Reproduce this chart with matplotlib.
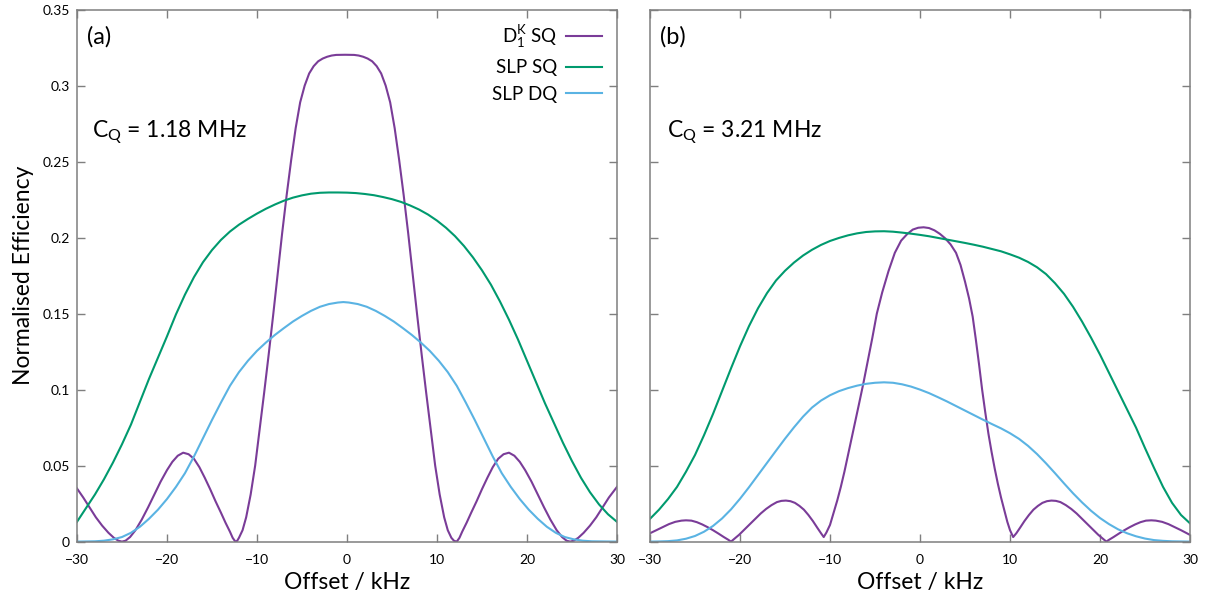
import matplotlib
matplotlib.use("Agg")
import matplotlib.pyplot as plt
from matplotlib.ticker import FuncFormatter

plt.rcParams['font.family'] = ['Lato', 'DejaVu Sans']
plt.rcParams['mathtext.fontset'] = 'custom'
plt.rcParams['mathtext.rm'] = 'Lato'
plt.rcParams['mathtext.it'] = 'Lato:italic'

# ---- panel (a), CQ = 1.18 MHz ----
a_dk_x = [-30, -29.3, -28.6, -27.9, -27.2, -26.5, -25.9, -25.4, -25, -24.6, -24.1, -23.5, -22.8,
          -22.1, -21.4, -20.7, -20, -19.4, -18.8, -18.2, -17.6, -17.0, -16.4, -15.8, -15.2,
          -14.6, -14.0, -13.5, -13.0, -12.7, -12.4, -12.2, -12.0, -11.6, -11.2, -10.7, -10.2,
          -9.7, -9.2, -8.7, -8.2, -7.7, -7.2, -6.7, -6.2, -5.7, -5.2, -4.7, -4.2, -3.7, -3.2,
          -2.7, -2.2, -1.7, -1.2, -0.2, 0.8, 1.3, 1.8, 2.3, 2.8, 3.3, 3.8, 4.3, 4.8, 5.3, 5.8,
          6.3, 6.8, 7.3, 7.8, 8.3, 8.8, 9.3, 9.8, 10.3, 10.8, 11.2, 11.6, 11.9, 12.2, 12.5,
          12.8, 13.3, 13.8, 14.4, 15.0, 15.6, 16.2, 16.8, 17.4, 18.0, 18.6, 19.2, 19.8, 20.5,
          21.2, 21.9, 22.6, 23.3, 23.9, 24.4, 24.8, 25.2, 25.7, 26.3, 27.0, 27.7, 28.4, 29.1,
          30]
a_dk_y = [0.035, 0.029, 0.0225, 0.016, 0.0105, 0.0058, 0.0025, 0.0006, 0.0, 0.0006, 0.003,
          0.0075, 0.0145, 0.0225, 0.031, 0.0395, 0.047, 0.0525, 0.0565, 0.0585, 0.0575, 0.0545,
          0.049, 0.042, 0.0345, 0.0265, 0.019, 0.0125, 0.0065, 0.0025, 0.0, 0.0005, 0.0025,
          0.0075, 0.016, 0.031, 0.050, 0.074, 0.098, 0.123, 0.149, 0.176, 0.203, 0.228, 0.251,
          0.272, 0.289, 0.300, 0.308, 0.3128, 0.316, 0.3178, 0.319, 0.3198, 0.3202, 0.3203,
          0.3202, 0.3198, 0.319, 0.3178, 0.316, 0.3128, 0.308, 0.300, 0.289, 0.272, 0.251,
          0.228, 0.203, 0.176, 0.149, 0.123, 0.098, 0.074, 0.050, 0.031, 0.016, 0.0075, 0.0025,
          0.0005, 0.0, 0.0025, 0.0065, 0.0125, 0.019, 0.0265, 0.0345, 0.042, 0.049, 0.0545,
          0.0575, 0.0585, 0.0565, 0.0525, 0.047, 0.0395, 0.031, 0.0225, 0.0145, 0.0075, 0.003,
          0.0006, 0.0, 0.0006, 0.0025, 0.0058, 0.0105, 0.016, 0.0225, 0.029, 0.036]

a_slp_sq_x = [-30, -29, -28, -27, -26, -25, -24, -23, -22, -21, -20, -19, -18, -17, -16, -15,
              -14, -13, -12, -11, -10, -9, -8, -7, -6, -5, -4, -3, -2, -1, 0, 1, 2, 3, 4, 5, 6,
              7, 8, 9, 10, 11, 12, 13, 14, 15, 16, 17, 18, 19, 20, 21, 22, 23, 24, 25, 26, 27,
              28, 29, 30]
a_slp_sq_y = [0.013, 0.022, 0.031, 0.041, 0.052, 0.064, 0.077, 0.092, 0.107, 0.121, 0.135,
              0.1495, 0.1625, 0.174, 0.1838, 0.1918, 0.1985, 0.204, 0.2085, 0.2123, 0.2158,
              0.219, 0.2218, 0.2243, 0.2263, 0.2278, 0.2289, 0.2295, 0.2297, 0.2297, 0.2296,
              0.2293, 0.2287, 0.2279, 0.2267, 0.2253, 0.2235, 0.2212, 0.2185, 0.2152, 0.2112,
              0.2065, 0.201, 0.1945, 0.187, 0.1785, 0.169, 0.158, 0.146, 0.133, 0.119, 0.105,
              0.091, 0.078, 0.065, 0.053, 0.042, 0.0325, 0.0245, 0.018, 0.013]

a_slp_dq_x = [-30, -28, -27, -26, -25, -24, -23, -22, -21, -20, -19, -18, -17, -16, -15, -14,
              -13, -12, -11, -10, -9, -8, -7, -6, -5, -4, -3, -2, -1, -0.4, 0.2, 1.2, 2.2, 3.2,
              4.2, 5.2, 6.2, 7.2, 8.2, 9.2, 10.2, 11.2, 12.2, 13.2, 14.2, 15.2, 16.2, 17.2,
              18.2, 19.2, 20.2, 21.2, 22.2, 23.2, 24.2, 25.2, 26.2, 27.2, 30]
a_slp_dq_y = [0.0, 0.0002, 0.0006, 0.0015, 0.003, 0.0058, 0.0098, 0.015, 0.021, 0.028, 0.036,
              0.045, 0.056, 0.068, 0.080, 0.0915, 0.1025, 0.1115, 0.119, 0.1255, 0.131, 0.136,
              0.1405, 0.1448, 0.1485, 0.1518, 0.1545, 0.1563, 0.1573, 0.1576, 0.1573, 0.1563,
              0.1545, 0.1518, 0.1485, 0.1448, 0.1405, 0.136, 0.131, 0.1255, 0.119, 0.1115,
              0.1025, 0.0915, 0.080, 0.068, 0.056, 0.045, 0.036, 0.028, 0.021, 0.015, 0.0098,
              0.0058, 0.003, 0.0015, 0.0006, 0.0002, 0.0]

# ---- panel (b), CQ = 3.21 MHz ----
b_dk_x = [-30, -29.3, -28.6, -27.9, -27.2, -26.5, -26, -25.4, -24.8, -24.2, -23.6, -23.0, -22.4,
          -21.8, -21.3, -21, -20.6, -20.1, -19.5, -18.9, -18.3, -17.7, -17.1, -16.5, -15.9,
          -15.4, -14.9, -14.4, -13.9, -13.4, -12.9, -12.4, -11.9, -11.4, -11.0, -10.7, -10.4,
          -10.0, -9.6, -9.2, -8.8, -8.4, -8.0, -7.6, -7.2, -6.8, -6.3, -5.8, -5.3, -4.8, -4.2,
          -3.5, -2.8, -2.1, -1.4, -0.8, -0.2, 0.4, 1.0, 1.6, 2.2, 2.8, 3.4, 4.0, 4.5, 5.0,
          5.45, 5.85, 6.2, 6.55, 6.9, 7.25, 7.6, 7.95, 8.3, 8.65, 9.0, 9.35, 9.7, 10.0, 10.35,
          10.7, 11.1, 11.6, 12.1, 12.6, 13.1, 13.6, 14.1, 14.6, 15.1, 15.6, 16.2, 16.8, 17.4,
          18.0, 18.6, 19.2, 19.8, 20.3, 20.7, 21.0, 21.5, 22.1, 22.7, 23.3, 23.9, 24.5, 25.1,
          25.7, 26.2, 26.9, 27.6, 28.3, 29.0, 30]
b_dk_y = [0.0055, 0.0075, 0.0095, 0.0115, 0.013, 0.0138, 0.014, 0.0138, 0.0128, 0.0113, 0.0095,
          0.0075, 0.0053, 0.003, 0.0012, 0.0, 0.002, 0.0045, 0.008, 0.0115, 0.015, 0.0185,
          0.0215, 0.024, 0.026, 0.0268, 0.027, 0.0266, 0.0255, 0.0235, 0.021, 0.0175, 0.0135,
          0.009, 0.0055, 0.003, 0.006, 0.011, 0.019, 0.027, 0.036, 0.046, 0.057, 0.068, 0.079,
          0.090, 0.104, 0.119, 0.134, 0.150, 0.164, 0.178, 0.190, 0.198, 0.2025, 0.2053,
          0.2065, 0.2068, 0.2063, 0.2048, 0.2025, 0.1995, 0.1955, 0.190, 0.182, 0.171, 0.160,
          0.148, 0.133, 0.117, 0.100, 0.085, 0.071, 0.059, 0.048, 0.038, 0.029, 0.021, 0.013,
          0.0075, 0.003, 0.0055, 0.009, 0.0135, 0.0175, 0.021, 0.0235, 0.0255, 0.0266, 0.027,
          0.0268, 0.026, 0.024, 0.0215, 0.0185, 0.015, 0.0115, 0.008, 0.0045, 0.002, 0.0,
          0.0012, 0.003, 0.0053, 0.0075, 0.0095, 0.0113, 0.0128, 0.0138, 0.014, 0.0138, 0.013,
          0.0115, 0.0095, 0.0075, 0.0044]

b_slp_sq_x = [-30, -29, -28, -27, -26, -25, -24, -23, -22, -21, -20, -19, -18, -17, -16, -15,
              -14, -13, -12, -11, -10, -9, -8, -7, -6, -5, -4, -3, -2, -1, 0, 1, 2, 3, 4, 5, 6,
              7, 8, 9, 10, 11, 12, 13, 14, 15, 16, 17, 18, 19, 20, 21, 22, 23, 24, 25, 26, 27,
              28, 29, 30]
b_slp_sq_y = [0.015, 0.021, 0.028, 0.036, 0.046, 0.057, 0.070, 0.084, 0.099, 0.114, 0.1285,
              0.1418, 0.1535, 0.1635, 0.1718, 0.1782, 0.1836, 0.1882, 0.192, 0.1952, 0.1978,
              0.1998, 0.2015, 0.2028, 0.2037, 0.2041, 0.2042, 0.2039, 0.2033, 0.2026, 0.2018,
              0.2009, 0.1998, 0.1987, 0.1976, 0.1965, 0.1953, 0.194, 0.1925, 0.191, 0.189,
              0.1868, 0.184, 0.1805, 0.176, 0.170, 0.163, 0.1545, 0.1448, 0.1342, 0.123, 0.111,
              0.099, 0.087, 0.075, 0.0615, 0.0485, 0.036, 0.0255, 0.0175, 0.012]

b_slp_dq_x = [-30, -29, -28, -27, -26, -25, -24, -23, -22, -21, -20, -19, -18, -17, -16, -15,
              -14, -13, -12, -11, -10, -9, -8, -7, -6, -5, -4, -3, -2, -1, 0, 1, 2, 3, 4, 5, 6,
              7, 8, 9, 10, 11, 12, 13, 14, 15, 16, 17, 18, 19, 20, 21, 22, 23, 24, 25, 26, 27,
              28, 29, 30]
b_slp_dq_y = [0.0, 0.0001, 0.0003, 0.0008, 0.0019, 0.0037, 0.0065, 0.0103, 0.0152, 0.0212,
              0.0282, 0.0358, 0.0438, 0.0518, 0.0598, 0.0677, 0.0752, 0.0822, 0.0882, 0.0928,
              0.0963, 0.099, 0.101, 0.1026, 0.1038, 0.1045, 0.1048, 0.1045, 0.1035, 0.102,
              0.100, 0.0977, 0.095, 0.0922, 0.0892, 0.0862, 0.0832, 0.0802, 0.0773, 0.0745,
              0.0713, 0.0676, 0.063, 0.0576, 0.0515, 0.045, 0.0383, 0.0318, 0.0258, 0.0203,
              0.0155, 0.0115, 0.0081, 0.0055, 0.0035, 0.002, 0.001, 0.0005, 0.0002, 0.0001, 0.0]

c_dk = '#7a3c98'
c_sq = '#009a6e'
c_dq = '#5ab3e3'
frame = '#7f7f7f'
lw = 1.5

fig = plt.figure(figsize=(12.1, 5.98), dpi=100)
ax1 = fig.add_axes([0.0636, 0.0943, 0.4463, 0.8896])
ax2 = fig.add_axes([0.5372, 0.0943, 0.4463, 0.8896])

ax1.plot(a_dk_x, a_dk_y, color=c_dk, lw=lw, label=r'D$_1^{\mathrm{K}}$ SQ')
ax1.plot(a_slp_sq_x, a_slp_sq_y, color=c_sq, lw=lw, label='SLP SQ')
ax1.plot(a_slp_dq_x, a_slp_dq_y, color=c_dq, lw=lw, label='SLP DQ')

ax2.plot(b_dk_x, b_dk_y, color=c_dk, lw=lw)
ax2.plot(b_slp_sq_x, b_slp_sq_y, color=c_sq, lw=lw)
ax2.plot(b_slp_dq_x, b_slp_dq_y, color=c_dq, lw=lw)

fmt = FuncFormatter(lambda v, p: '%g' % round(v, 3))
for ax in (ax1, ax2):
    ax.set_xlim(-30, 30)
    ax.set_ylim(0, 0.35)
    ax.set_xticks([-30, -20, -10, 0, 10, 20, 30])
    ax.set_yticks([0, 0.05, 0.1, 0.15, 0.2, 0.25, 0.3, 0.35])
    ax.yaxis.set_major_formatter(fmt)
    ax.tick_params(direction='in', top=True, right=True, length=6, width=1,
                   color=frame, labelsize=10)
    ax.tick_params(axis='x', pad=9)
    ax.tick_params(axis='y', pad=5)
    for s in ax.spines.values():
        s.set_color(frame)
        s.set_linewidth(1.1)
    ax.set_xlabel('Offset / kHz', fontsize=16.5, labelpad=4)

ax2.tick_params(labelleft=False)
ax1.set_ylabel('Normalised Efficiency', fontsize=16.5, labelpad=6)

ax1.text(0.018, 0.97, '(a)', transform=ax1.transAxes, fontsize=17, va='top')
ax1.text(0.028, 0.795, r'C$_\mathrm{Q}$ = 1.18 MHz', transform=ax1.transAxes, fontsize=16.5, va='top')
ax2.text(0.018, 0.97, '(b)', transform=ax2.transAxes, fontsize=17, va='top')
ax2.text(0.032, 0.795, r'C$_\mathrm{Q}$ = 3.21 MHz', transform=ax2.transAxes, fontsize=16.5, va='top')

ax1.legend(loc='upper right', frameon=False, markerfirst=False, fontsize=13.5,
           handlelength=1.9, handletextpad=0.5, labelspacing=0.5,
           borderaxespad=0, bbox_to_anchor=(0.986, 0.988))

fig.savefig('out.png', dpi=100)
